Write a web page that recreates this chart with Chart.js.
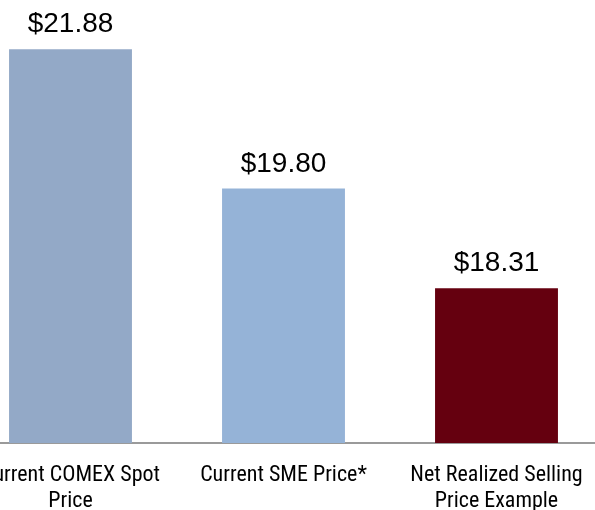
<!DOCTYPE html>
<html>
<head>
<meta charset="utf-8">
<script src="https://cdn.jsdelivr.net/npm/chart.js@4/dist/chart.umd.min.js"></script>
<style>
html,body{margin:0;padding:0;width:595px;height:510px;overflow:hidden;background:#fff;}
#wrap{position:absolute;left:-36px;top:0;width:639px;height:510px;}
</style>
</head>
<body>
<div id="wrap"><canvas id="c" width="639" height="510"></canvas></div>
<script>
const categories = [["Current COMEX Spot", "Price"], "Current SME Price*", ["Net Realized Selling", "Price Example"]];
const prices = [21.88, 19.80, 18.31];
const valueLabels = ["$21.88", "$19.80", "$18.31"];
const barColors = ["#93A9C7", "#95B3D7", "#65000F"];

const valuePlugin = {
  id: 'valueLabels',
  afterDatasetsDraw(chart) {
    const ctx = chart.ctx;
    const meta = chart.getDatasetMeta(0);
    ctx.save();
    ctx.fillStyle = '#000';
    ctx.font = '28px "Liberation Sans", Arial, sans-serif';
    ctx.textAlign = 'center';
    ctx.textBaseline = 'alphabetic';
    meta.data.forEach((bar, i) => {
      ctx.fillText(valueLabels[i], bar.x, bar.y - 17);
    });
    ctx.restore();
  }
};

new Chart(document.getElementById('c'), {
  type: 'bar',
  data: {
    labels: categories,
    datasets: [{
      data: prices,
      backgroundColor: barColors,
      borderWidth: 0,
      categoryPercentage: 1,
      barPercentage: 0.577
    }]
  },
  options: {
    responsive: false,
    animation: false,
    layout: { padding: 0 },
    plugins: { legend: { display: false }, tooltip: { enabled: false } },
    scales: {
      y: { display: false, min: 16, max: 22.617 },
      x: {
        afterFit(scale) {
          scale.height = 67;
          scale.paddingLeft = 0;
          scale.paddingRight = 0;
        },
        grid: { display: false, drawTicks: false },
        border: { display: true, color: '#9a9a9a', width: 2 },
        ticks: {
          color: '#000',
          padding: 19,
          maxRotation: 0,
          autoSkip: false,
          font: { family: '"Roboto Condensed", "Open Sans Condensed", sans-serif', size: 22, lineHeight: 1.2 }
        }
      }
    }
  },
  plugins: [valuePlugin]
});
</script>
</body>
</html>
